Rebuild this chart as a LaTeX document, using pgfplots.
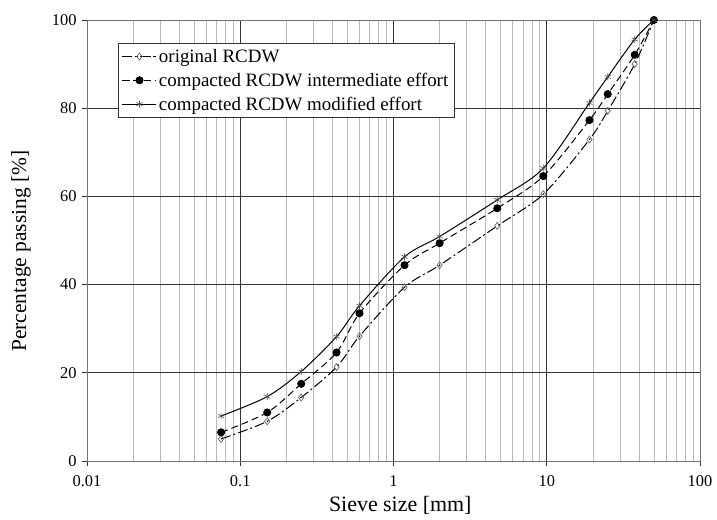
\documentclass[border=0pt]{standalone}
\usepackage{pgfplots}
\pgfplotsset{compat=1.18}
\usepackage{fontspec}
\setmainfont{Liberation Serif}
\begin{document}
\begin{tikzpicture}[x=1bp,y=1bp]
\begin{axis}[
  at={(0,0)}, anchor=south west,
  xmode=log,
  scale only axis,
  width=613bp, height=441bp,
  xmin=0.01, xmax=100, ymin=0, ymax=100,
  xtick={0.01,0.1,1,10,100},
  xticklabels={0.01,0.1,1,10,100},
  ytick={0,20,40,60,80,100},
  grid=both,
  major grid style={black!80, line width=0.7bp},
  minor grid style={black!28, line width=0.7bp},
  axis line style={black!55, line width=0.7bp},
  xtick pos=bottom, ytick pos=left,
  tick align=outside,
  major tick length=5bp, minor tick length=0bp,
  major tick style={black!80, line width=0.7bp},
  tick label style={font=\fontsize{16.5}{19}\selectfont},
  xticklabel style={yshift=-6bp},
  yticklabel style={xshift=-2bp},
  /pgf/number format/assume math mode=true,
  xlabel={Sieve size [mm]},
  ylabel={Percentage passing [\%]},
  xlabel style={font=\fontsize{22}{25}\selectfont, at={(axis description cs:0.511,-0.0998)}, anchor=center},
  ylabel style={font=\fontsize{21.5}{25}\selectfont, at={(axis description cs:-0.1077,0.476)}, anchor=center},
  legend style={at={(0.05,0.948)}, anchor=north west, draw=black!80, line width=0.7bp,
    font=\fontsize{19}{22}\selectfont, row sep=5bp, inner sep=4bp},
  legend cell align=left,
  legend image code/.code={\draw[mark repeat=2,mark phase=2,#1] plot coordinates {(0bp,0bp) (17bp,0bp) (34bp,0bp)};},
]
\addplot[black, line width=1bp, smooth, tension=0.5,
  dash pattern=on 10bp off 3bp on 2bp off 3bp,
  mark=diamond, mark size=3.5bp, mark options={solid, fill=white, draw=black!60, line width=0.7bp}]
coordinates {(0.075,5.0)(0.15,9.0)(0.25,14.4)(0.425,21.3)(0.6,28.3)(1.18,39.4)(2,44.4)(4.75,53.3)(9.5,60.5)(19,72.9)(25,79.4)(37.5,90.0)(50,100)};
\addlegendentry{original RCDW}
\addplot[black, line width=1bp, smooth, tension=0.5,
  dash pattern=on 7bp off 4bp,
  mark=*, mark size=3.5bp, mark options={solid, fill=black}]
coordinates {(0.075,6.5)(0.15,11.0)(0.25,17.5)(0.425,24.6)(0.6,33.5)(1.18,44.4)(2,49.4)(4.75,57.3)(9.5,64.6)(19,77.3)(25,83.2)(37.5,92.1)(50,100)};
\addlegendentry{compacted RCDW intermediate effort}
\addplot[black, line width=1bp, smooth, tension=0.5,
  mark=asterisk, mark size=3.5bp, mark options={solid, draw=black!70, line width=0.6bp}]
coordinates {(0.075,10.2)(0.15,14.6)(0.25,20.3)(0.425,28.2)(0.6,35.2)(1.18,46.3)(2,50.9)(4.75,59.2)(9.5,66.4)(19,81.2)(25,87.1)(37.5,95.6)(50,100)};
\addlegendentry{compacted RCDW modified effort}
\end{axis}
\pgfresetboundingbox
\path (-87,-59) rectangle (630,461);
\end{tikzpicture}
\end{document}
